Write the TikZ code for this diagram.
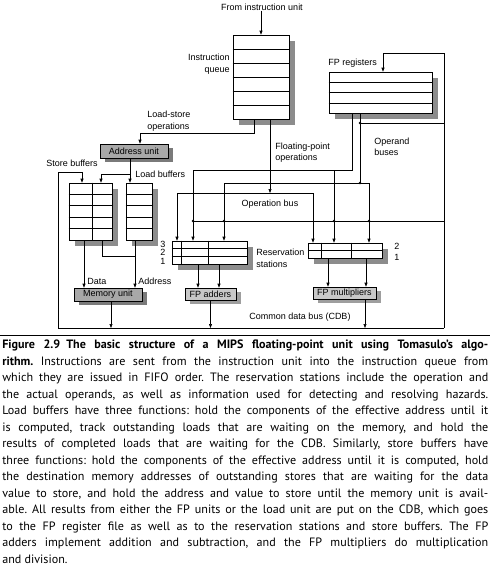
\documentclass[tikz,border=0pt]{standalone}
\usepackage{fontspec}
\setmainfont{PT Sans}
\newfontfamily\labelfont{Liberation Sans}
\usepackage{tikz}
\usetikzlibrary{positioning,
				calc,
				arrows.meta,
				shadows}
\definecolor{shadowgray}{HTML}{8C8C8C}
\definecolor{unitgray}{HTML}{A8A8A8}
\definecolor{unitshadow}{HTML}{7A7A7A}
\definecolor{lightunit}{HTML}{C8C8C8}
\definecolor{lightshadow}{HTML}{9E9E9E}

\begin{document}
\begin{tikzpicture}[x=1pt,y=-1pt,line width=0.6pt,
  >={Triangle[length=4pt,width=3pt]},
  regbox/.style={draw,fill=white,inner sep=0pt,
    drop shadow={shadow xshift=6pt,shadow yshift=-6pt,fill=shadowgray,opacity=1}},
  unit/.style={draw,fill=unitgray,inner sep=0pt,
    font=\labelfont\fontsize{9}{11}\selectfont,
    drop shadow={shadow xshift=5pt,shadow yshift=-4pt,fill=unitshadow,opacity=1}},
  lightbox/.style={unit,fill=lightunit,
    drop shadow={shadow xshift=5pt,shadow yshift=-4pt,fill=lightshadow,opacity=1}},
  lbl/.style={inner sep=0pt,font=\labelfont\fontsize{9}{11.5}\selectfont},
  cdbline/.style={line width=0.9pt}]
  \useasboundingbox (0,0) rectangle (490,574);

  \node[regbox,minimum width=56pt,minimum height=84pt] (queue) at (261,77) {};
  \node[regbox,minimum width=103pt,minimum height=41pt] (fpregs) at (380.5,92.5) {};
  \node[regbox,minimum width=43pt,minimum height=57pt] (store) at (90.5,211.5) {};
  \node[regbox,minimum width=26pt,minimum height=57pt] (load) at (139,211.5) {};
  \node[regbox,minimum width=75pt,minimum height=23pt] (addrs) at (209.5,252.5) {};
  \node[regbox,minimum width=74pt,minimum height=15pt] (mulrs) at (345,250.5) {};
  \foreach \i in {1,...,5}
    \draw ($(queue.north west)!\i/6!(queue.south west)$) -- ($(queue.north east)!\i/6!(queue.south east)$);
  \foreach \i in {1,2,3}
    \draw ($(fpregs.north west)!\i/4!(fpregs.south west)$) -- ($(fpregs.north east)!\i/4!(fpregs.south east)$);
  \foreach \i in {1,...,4} {
    \draw ($(store.north west)!\i/5!(store.south west)$) -- ($(store.north east)!\i/5!(store.south east)$);
    \draw ($(load.north west)!\i/5!(load.south west)$) -- ($(load.north east)!\i/5!(load.south east)$);
  }
  \draw ($(store.north west)!0.535!(store.north east)$) -- ($(store.south west)!0.535!(store.south east)$);
  \foreach \i in {1,2}
    \draw ($(addrs.north west)!\i/3!(addrs.south west)$) -- ($(addrs.north east)!\i/3!(addrs.south east)$);
  \foreach \f in {0.133,0.48}
    \draw ($(addrs.north west)!\f!(addrs.north east)$) -- ($(addrs.south west)!\f!(addrs.south east)$);
  \draw (mulrs.west) -- (mulrs.east);
  \foreach \f in {0.176,0.581}
    \draw ($(mulrs.north west)!\f!(mulrs.north east)$) -- ($(mulrs.south west)!\f!(mulrs.south east)$);

  \node[unit,minimum width=68pt,minimum height=14pt] (addr) at (134,151) {Address unit};
  \node[unit,minimum width=68pt,minimum height=13pt] (memu) at (108,294.5) {Memory unit};
  \node[lightbox,minimum width=51pt,minimum height=12pt] (fpadd) at (210.5,294) {FP adders};
  \node[lightbox,minimum width=63pt,minimum height=12pt] (fpmul) at (344.5,293) {FP multipliers};

  \node[lbl] (fromtxt) at (262,7) {From instruction unit};
  \node[lbl,anchor=east,align=right] (queuetxt) at (230,64) {Instruction\\queue};
  \node[lbl,anchor=west] (regtxt) at (328,63) {FP registers};
  \node[lbl,anchor=west,align=left] (lstxt) at (147,121) {Load-store\\operations};
  \node[lbl,anchor=west] (storetxt) at (46,163) {Store buffers};
  \node[lbl,anchor=west] (loadtxt) at (135,174) {Load buffers};
  \node[lbl,anchor=west,align=left] (fptxt) at (275,152.5) {Floating-point\\operations};
  \node[lbl,anchor=west,align=left] (operandtxt) at (374,147) {Operand\\buses};
  \node[lbl] (opbustxt) at (270,204) {Operation bus};
  \node[lbl,anchor=west,align=left] (rstxt) at (256,258.5) {Reservation\\stations};
  \node[lbl] (ars3) at (163,244) {3};
  \node[lbl] (ars2) at (163,252.5) {2};
  \node[lbl] (ars1) at (163,261) {1};
  \node[lbl] (mrs2) at (397,246) {2};
  \node[lbl] (mrs1) at (397,257) {1};
  \node[lbl,anchor=west] (datatxt) at (87,281) {Data};
  \node[lbl,anchor=west] (addrtxt) at (138,281) {Address};
  \node[lbl] (cdbtxt) at (300,317) {Common data bus (CDB)};

  \coordinate (lsb) at (140,133);
  \coordinate (opb) at (270,193);
  \coordinate (opr) at (313,193);
  \coordinate (ob1) at (193,170);
  \coordinate (ob1m) at (334,170);
  \coordinate (ob2) at (360,183);
  \coordinate (cdbl) at (58,328);
  \coordinate (cdbr) at (444,328);
  \coordinate (cdbm) at (111,328);
  \coordinate (cdba) at (210.5,328);
  \coordinate (cdbx) at (365,328);
  \coordinate (regin) at (383,53);
  \coordinate (cdbreg) at (444,123);
  \coordinate (ob2top) at (360,123);
  \coordinate (cdbrs) at (444,221);
  \coordinate (cdbrsl) at (193,221);
  \coordinate (stin) at (82,172);
  \coordinate (adj) at (130,174);
  \coordinate (stj) at (135,256);

  \draw[->] (queue.north |- fromtxt.south) -- (queue.north);
  \draw[->] ([xshift=-7pt]queue.south) |- (lsb) -- ([xshift=6pt]addr.north);
  \draw[->] ([xshift=9pt]queue.south) -- (opb);
  \draw[<->] ([xshift=-32.5pt]addrs.north) |- (opr) -- ([xshift=-32pt]mulrs.north);
  \draw[->] ([xshift=-28.5pt]fpregs.south) |- (ob1) -- ([xshift=-16.5pt]addrs.north);
  \draw[->] (ob1m) -- ([xshift=-11pt]mulrs.north);
  \draw ([xshift=-20.5pt]fpregs.south) -- (ob2);
  \draw[->] (ob2) -| ([xshift=14.5pt]addrs.north);
  \draw[->] (ob2) -| ([xshift=24pt]mulrs.north);

  \draw[cdbline] (cdbl) -- (cdbr);
  \draw[->] (cdbr) |- (regin) -- ([xshift=2.5pt]fpregs.north);
  \draw (cdbreg) -- (ob2top);
  \draw (cdbrs) -- (cdbrsl);
  \draw[->] (cdbl) |- (stin) -- ([xshift=-8.5pt]store.north);
  \foreach \p in {(193,221),(224,221),(334,221),(369,221),(360,183),(360,123)}
    \fill \p circle (1.4pt);

  \draw[->] ([xshift=-4pt]addr.south) -- ([xshift=-9pt]load.north);
  \draw[->] (adj) -| ([xshift=10.5pt]store.north);
  \draw[->] ([xshift=-6.5pt]store.south) -- ([xshift=-24pt]memu.north);
  \draw ([xshift=11.5pt]store.south) |- (stj);
  \draw[->] ([xshift=-4pt]load.south) -- ([xshift=27pt]memu.north);
  \draw[->] ([xshift=3pt]memu.south) -- (cdbm);

  \draw[->] ([xshift=-11.5pt]addrs.south) -- ([xshift=-12.5pt]fpadd.north);
  \draw[->] ([xshift=9.5pt]addrs.south) -- ([xshift=8.5pt]fpadd.north);
  \draw[->] ([xshift=-17pt]mulrs.south) -- ([xshift=-16.5pt]fpmul.north);
  \draw[->] ([xshift=21pt]mulrs.south) -- ([xshift=21.5pt]fpmul.north);
  \draw[->] (fpadd.south) -- (cdba);
  \draw[->] ([xshift=20.5pt]fpmul.south) -- (cdbx);

  \coordinate (rulel) at (0,335);
  \coordinate (ruler) at (490,335);
  \draw (rulel) -- (ruler);
  \node[anchor=north west,inner sep=0pt,text width=486pt,align=justify,
    font=\fontsize{12.1}{16.5}\selectfont] (caption) at (2,340) {\noindent\frenchspacing
    \textbf{Figure 2.9\hspace{0.5em}The basic structure of a MIPS floating-point unit using Tomasulo’s algo-}\linebreak
    \textbf{rithm.} Instructions are sent from the instruction unit into the instruction queue from\linebreak
    which they are issued in FIFO order. The reservation stations include the operation and\linebreak
    the actual operands, as well as information used for detecting and resolving hazards.\linebreak
    Load buffers have three functions: hold the components of the effective address until it\linebreak
    is computed, track outstanding loads that are waiting on the memory, and hold the\linebreak
    results of completed loads that are waiting for the CDB. Similarly, store buffers have\linebreak
    three functions: hold the components of the effective address until it is computed, hold\linebreak
    the destination memory addresses of outstanding stores that are waiting for the data\linebreak
    value to store, and hold the address and value to store until the memory unit is avail-\linebreak
    able. All results from either the FP units or the load unit are put on the CDB, which goes\linebreak
    to the FP register file as well as to the reservation stations and store buffers. The FP\linebreak
    adders implement addition and subtraction, and the FP multipliers do multiplication\linebreak
    and division.};
\end{tikzpicture}
\end{document}
